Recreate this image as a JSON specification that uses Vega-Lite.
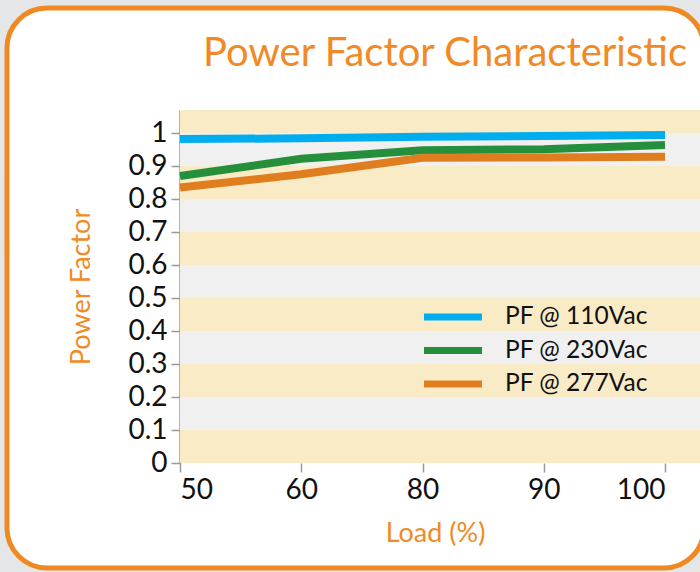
{
  "$schema": "https://vega.github.io/schema/vega-lite/v6.json",
  "width": 697,
  "height": 560,
  "autosize": {"type": "none"},
  "padding": {"left": 7, "top": 8, "right": -4, "bottom": 4},
  "background": "#e4e6e7",
  "config": {
    "font": "Lato",
    "view": {"fill": "white", "stroke": "#ef8a22", "strokeWidth": 5, "cornerRadius": 40}
  },
  "title": {
    "text": "Power Factor Characteristic",
    "color": "#f08a24",
    "fontSize": 40,
    "fontWeight": "normal",
    "anchor": "end",
    "baseline": "alphabetic",
    "offset": -58,
    "dx": -17,
    "dy": 40,
    "frame": "group"
  },
  "datasets": {
    "pf": [
      {"load": 50, "pf": 0.982, "series": "PF @ 110Vac"},
      {"load": 60, "pf": 0.984, "series": "PF @ 110Vac"},
      {"load": 80, "pf": 0.989, "series": "PF @ 110Vac"},
      {"load": 90, "pf": 0.991, "series": "PF @ 110Vac"},
      {"load": 100, "pf": 0.994, "series": "PF @ 110Vac"},
      {"load": 50, "pf": 0.870, "series": "PF @ 230Vac"},
      {"load": 60, "pf": 0.922, "series": "PF @ 230Vac"},
      {"load": 80, "pf": 0.948, "series": "PF @ 230Vac"},
      {"load": 90, "pf": 0.951, "series": "PF @ 230Vac"},
      {"load": 100, "pf": 0.964, "series": "PF @ 230Vac"},
      {"load": 50, "pf": 0.835, "series": "PF @ 277Vac"},
      {"load": 60, "pf": 0.875, "series": "PF @ 277Vac"},
      {"load": 80, "pf": 0.925, "series": "PF @ 277Vac"},
      {"load": 90, "pf": 0.926, "series": "PF @ 277Vac"},
      {"load": 100, "pf": 0.928, "series": "PF @ 277Vac"}
    ],
    "bands": [
      {"lo": 0, "hi": 0.1},
      {"lo": 0.2, "hi": 0.3},
      {"lo": 0.4, "hi": 0.5},
      {"lo": 0.6, "hi": 0.7},
      {"lo": 0.8, "hi": 0.9},
      {"lo": 1.0, "hi": 1.07}
    ]
  },
  "layer": [
    {
      "data": {"values": [{"x0": 50, "x1": 110, "lo": 0, "hi": 1.07}]},
      "mark": {"type": "rect", "color": "#f0f0f0"},
      "encoding": {
        "x": {"field": "x0", "type": "quantitative", "scale": {"domain": [50, 60, 80, 90, 100], "range": [173, 294.25, 415.5, 536.75, 658], "zero": false, "nice": false}, "axis": {
          "orient": "bottom", "offset": -105, "domain": false,
          "values": [50, 60, 80, 90, 100],
          "tickSize": 9, "tickColor": "#999999", "tickWidth": 1.5,
          "labelFontSize": 28, "labelColor": "#111111", "labelPadding": 4,
          "grid": false,
          "title": "Load (%)", "titleColor": "#f08a24", "titleFontSize": 27, "titleFontWeight": "normal", "titlePadding": 16, "titleX": 428
        }},
        "x2": {"field": "x1"},
        "y": {"field": "lo", "type": "quantitative", "scale": {"domain": [0, 1.07], "range": [455, 102], "nice": false, "zero": false}, "axis": {
          "orient": "left", "offset": -173,
          "values": [0, 0.1, 0.2, 0.3, 0.4, 0.5, 0.6, 0.7, 0.8, 0.9, 1],
          "format": ".1~f",
          "domainColor": "#999999", "domainWidth": 2.5,
          "tickSize": 9, "tickColor": "#999999", "tickWidth": 1.5,
          "labelFontSize": 28, "labelColor": "#111111", "labelPadding": 4,
          "grid": false,
          "title": "Power Factor", "titleColor": "#f08a24", "titleFontSize": 27, "titleFontWeight": "normal", "titlePadding": 32
        }},
        "y2": {"field": "hi"}
      }
    },
    {
      "data": {"name": "bands"},
      "mark": {"type": "rect", "color": "#f9ebc6"},
      "encoding": {
        "x": {"datum": 50, "type": "quantitative"},
        "x2": {"datum": 110},
        "y": {"field": "lo", "type": "quantitative"},
        "y2": {"field": "hi"}
      }
    },
    {
      "mark": {"type": "rule", "color": "#999999", "strokeWidth": 2.5},
      "encoding": {
        "x": {"datum": 50, "type": "quantitative"},
        "x2": {"datum": 110},
        "y": {"datum": 0, "type": "quantitative"}
      }
    },
    {
      "data": {"name": "pf"},
      "mark": {"type": "line", "strokeWidth": 8, "strokeCap": "butt"},
      "encoding": {
        "x": {"field": "load", "type": "quantitative"},
        "y": {"field": "pf", "type": "quantitative"},
        "color": {
          "field": "series", "type": "nominal",
          "scale": {"domain": ["PF @ 110Vac", "PF @ 230Vac", "PF @ 277Vac"], "range": ["#00adef", "#268f3b", "#e07e1f"]},
          "legend": {
            "title": null, "orient": "none", "legendX": 428, "legendY": 291,
            "symbolType": "M -2 0 L 2 0", "symbolSize": 841, "symbolStrokeWidth": 7,
            "labelFontSize": 24.5, "labelColor": "#111111", "labelOffset": 34,
            "rowPadding": 1.5
          }
        }
      }
    }
  ]
}
